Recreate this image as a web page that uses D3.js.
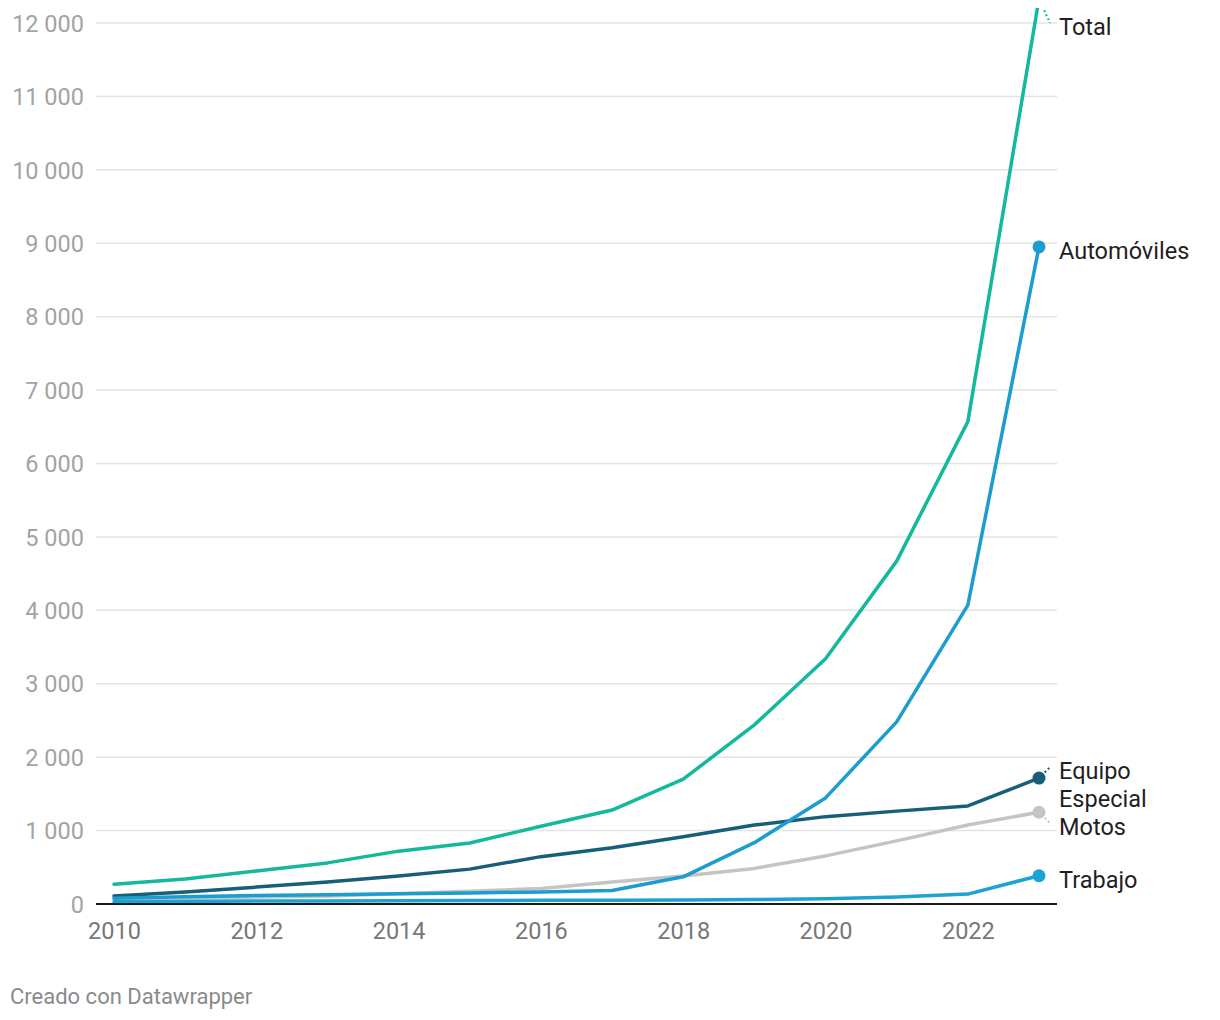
<!DOCTYPE html>
<html>
<head>
<meta charset="utf-8">
<script src="https://cdn.jsdelivr.net/npm/d3@7"></script>
<style>
  html, body { margin: 0; padding: 0; background: #fff; }
  svg { display: block; font-family: Roboto, "Noto Sans", sans-serif; }
</style>
</head>
<body>
<svg id="chart" width="1220" height="1020"></svg>
<script>
const years = [2010, 2011, 2012, 2013, 2014, 2015, 2016, 2017, 2018, 2019, 2020, 2021, 2022, 2023];

const total        = [270, 340, 450, 560, 720, 830, 1060, 1280, 1700, 2440, 3340, 4670, 6570, 12330];
const automoviles  = [80, 100, 115, 125, 140, 150, 165, 185, 370, 835, 1445, 2480, 4070, 8950];
const equipo       = [110, 165, 230, 300, 380, 475, 645, 765, 915, 1075, 1190, 1265, 1335, 1715];
const motos        = [60, 75, 95, 110, 140, 175, 210, 300, 380, 485, 655, 860, 1075, 1250];
const trabajo      = [30, 35, 40, 42, 45, 48, 50, 52, 55, 60, 70, 95, 135, 385];

const seriesNames  = ["Motos", "Equipo Especial", "Trabajo", "Automóviles", "Total"];
const seriesValues = [motos, equipo, trabajo, automoviles, total];
const seriesColors = ["#c4c4c4", "#175e78", "#1da3d3", "#1b9dd0", "#13b99a"];
const labelLines   = [["Motos"], ["Equipo", "Especial"], ["Trabajo"], ["Automóviles"], ["Total"]];

const xTicks = [2010, 2012, 2014, 2016, 2018, 2020, 2022];
const yTicks = [0, 1000, 2000, 3000, 4000, 5000, 6000, 7000, 8000, 9000, 10000, 11000, 12000];

const svg = d3.select("#chart");
const x = d3.scaleLinear().domain([2010, 2023]).range([114, 1039]);
const y = d3.scaleLinear().domain([0, 12000]).range([904, 23]);

const loc = d3.formatLocale({decimal: ",", thousands: " ", grouping: [3], currency: ["", ""]});
const fmt = loc.format(",d");

// gridlines + y labels
const yAxis = d3.axisLeft(y).tickValues(yTicks).tickSize(0).tickFormat(fmt);
const gy = svg.append("g").attr("transform", "translate(84,0)").call(yAxis);
gy.select(".domain").remove();
gy.selectAll("text").attr("x", 0).attr("dy", "0.35em")
  .attr("fill", "#a3a3a3").style("font-size", "23.5px").style("font-family", "Roboto");

svg.append("g").selectAll("line").data(yTicks.filter(d => d > 0)).join("line")
  .attr("x1", 96).attr("x2", 1057)
  .attr("y1", d => y(d)).attr("y2", d => y(d))
  .attr("stroke", "#e3e3e3").attr("stroke-width", 1.5);

// x axis
const xAxis = d3.axisBottom(x).tickValues(xTicks).tickSize(0).tickFormat(d3.format("d"));
const gx = svg.append("g").attr("transform", "translate(0,904)").call(xAxis);
gx.select(".domain").remove();
gx.selectAll("text").attr("y", 18).attr("dy", "0.71em")
  .attr("fill", "#777").style("font-size", "23.5px").style("font-family", "Roboto");

// clip for plot
svg.append("defs").append("clipPath").attr("id", "plotclip")
  .append("rect").attr("x", 0).attr("y", 8).attr("width", 1220).attr("height", 1000);

const plot = svg.append("g").attr("clip-path", "url(#plotclip)");
const line = d3.line().x((d, i) => x(years[i])).y(d => y(d));

seriesValues.forEach((vals, si) => {
  plot.append("path").datum(vals)
    .attr("d", line)
    .attr("fill", "none")
    .attr("stroke", seriesColors[si])
    .attr("stroke-width", 3.5)
    .attr("stroke-linejoin", "round")
    .attr("stroke-linecap", "round");
});

// baseline
svg.append("line").attr("x1", 96).attr("x2", 1057)
  .attr("y1", y(0)).attr("y2", y(0))
  .attr("stroke", "#1a1a1a").attr("stroke-width", 2);

// dots
seriesValues.forEach((vals, si) => {
  plot.append("circle")
    .attr("cx", x(years[years.length - 1]))
    .attr("cy", y(vals[vals.length - 1]))
    .attr("r", 6.5)
    .attr("fill", seriesColors[si]);
});

// labels with simple overlap resolution
const lineH = 28;
const half = 14;
const labels = seriesValues.map((vals, si) => {
  const dy = y(vals[vals.length - 1]);
  return { si, dotY: dy, cy: dy + 4, n: labelLines[si].length, nat: dy + 4 };
});
labels.forEach(l => { if (l.cy - half < 13) l.cy = 27; });
labels.sort((a, b) => a.cy - b.cy);
for (let it = 0; it < 50; it++) {
  for (let i = 0; i < labels.length - 1; i++) {
    const a = labels[i], b = labels[i + 1];
    const aBottom = a.cy + (a.n - 1) * lineH + half;
    const bTop = b.cy - half;
    const ov = aBottom - bTop;
    if (ov > 0.1) {
      a.cy -= ov / 2; b.cy += ov / 2;
    }
  }
}

const lx = 1059;
labels.forEach(l => {
  const t = svg.append("text")
    .attr("x", lx).attr("y", l.cy)
    .attr("fill", "#1f1f1f")
    .style("font-size", "23.5px").style("font-family", "Roboto");
  labelLines[l.si].forEach((s, k) => {
    t.append("tspan").attr("x", lx).attr("y", l.cy + k * lineH).attr("dy", "0.35em").text(s);
  });
  if (Math.abs(l.cy - l.nat) > 3) {
    const dx0 = x(2023), dy0 = l.dotY;
    const ex = 1050, ey = l.cy - 4;
    const vx = ex - dx0, vy = ey - dy0;
    const len = Math.hypot(vx, vy);
    const sx = dx0 + vx / len * 8, sy = dy0 + vy / len * 8;
    plot.append("line")
      .attr("x1", sx).attr("y1", sy).attr("x2", ex).attr("y2", ey)
      .attr("stroke", seriesColors[l.si]).attr("stroke-width", 2)
      .attr("stroke-dasharray", "2,2.5");
  }
});

// footer
svg.append("text").attr("x", 10).attr("y", 1004)
  .attr("fill", "#8a8a8a").style("font-size", "22px").style("font-family", "Roboto")
  .text("Creado con Datawrapper");
</script>
</body>
</html>
